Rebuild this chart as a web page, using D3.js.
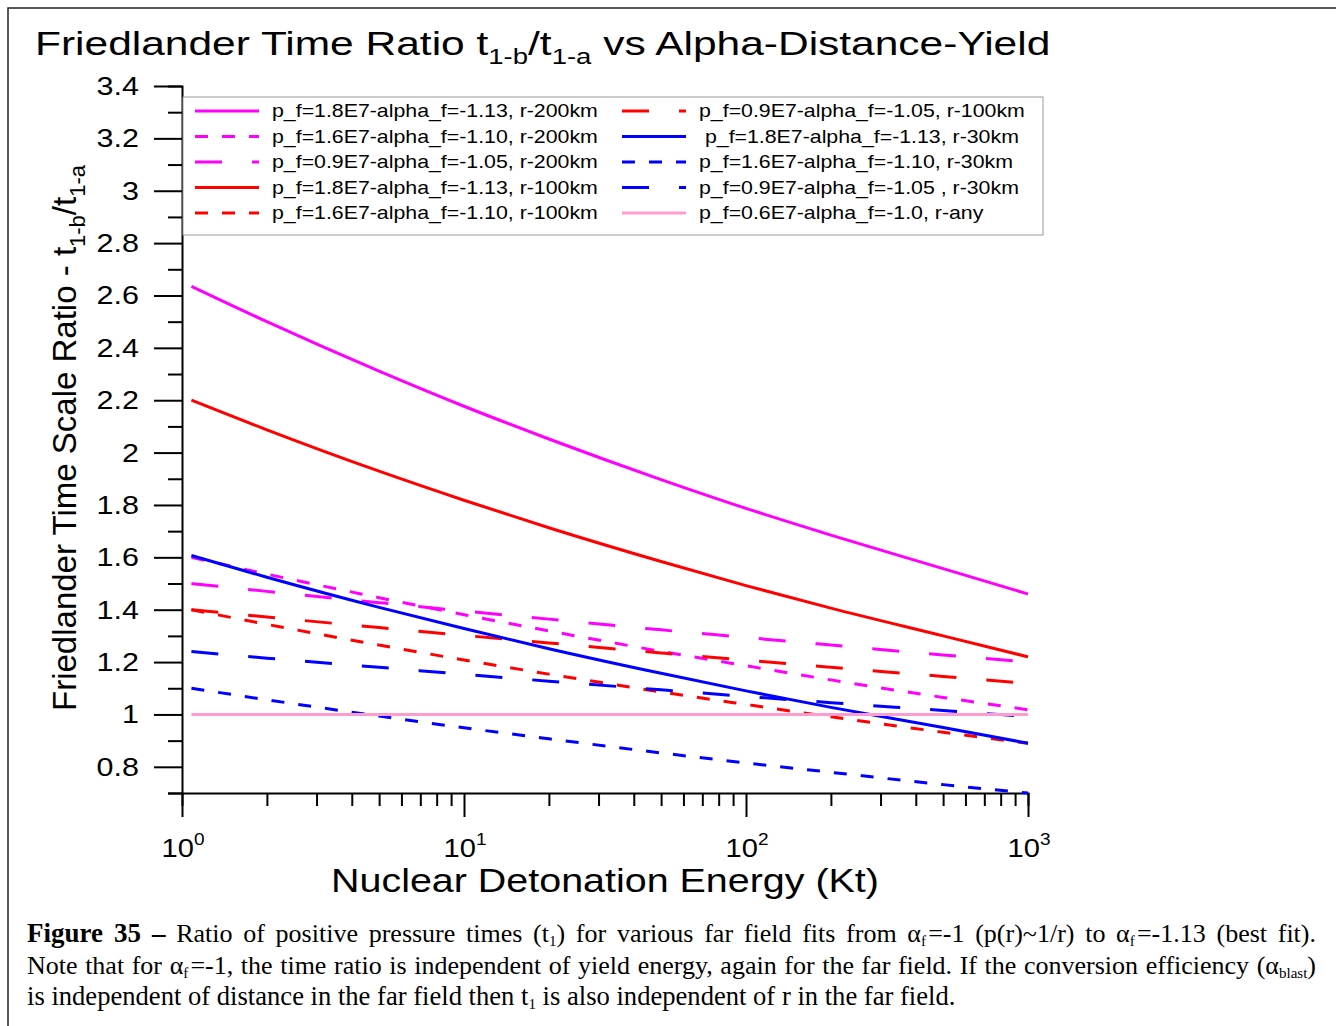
<!DOCTYPE html>
<html>
<head>
<meta charset="utf-8">
<script src="https://cdn.jsdelivr.net/npm/d3@7"></script>
<style>
  body { margin:0; background:#fff; }
  #wrap { position:relative; width:1336px; height:1026px; overflow:hidden; }
  svg { position:absolute; left:0; top:0; }
  .cap { position:absolute; left:27px; width:1289px; font-family:"Liberation Serif","Times New Roman",serif; font-size:26.6px; line-height:31px; white-space:nowrap; color:#000; }
  .cap.j { text-align:justify; text-align-last:justify; white-space:normal; font-size:26px; }
  .cap b { font-size:27px; }
  .cap sub { font-size:15px; vertical-align:-4px; line-height:0; }
</style>
</head>
<body>
<div id="wrap">
  <div id="chart"></div>
  <div class="cap j" style="top:918px"><b>Figure 35 –</b> Ratio of positive pressure times (t<sub>1</sub>) for various far field fits from α<sub>f</sub>&#8202;=-1 (p(r)~1/r) to α<sub>f</sub>&#8202;=-1.13 (best fit).</div>
  <div class="cap j" style="top:950px">Note that for α<sub>f</sub>&#8202;=-1, the time ratio is independent of yield energy, again for the far field. If the conversion efficiency (α<sub>blast</sub>)</div>
  <div class="cap" style="top:981px">is independent of distance in the far field then t<sub>1</sub> is also independent of r in the far field.</div>
</div>
<script>
// yield (Kt) where each curve was read
const energyKt = [1.08, 2, 5, 10, 20, 50, 100, 200, 500, 1000];

// ratio values
const mag200_113 = [2.635, 2.50, 2.311, 2.177, 2.052, 1.897, 1.787, 1.685, 1.557, 1.46];
const mag200_110 = [1.60, 1.536, 1.446, 1.381, 1.319, 1.241, 1.186, 1.132, 1.065, 1.018];
const mag200_105 = [1.50, 1.470, 1.427, 1.395, 1.364, 1.323, 1.294, 1.265, 1.227, 1.20];
const red100_113 = [2.20, 2.087, 1.929, 1.818, 1.713, 1.584, 1.492, 1.406, 1.300, 1.22];
const red100_110 = [1.40, 1.344, 1.265, 1.208, 1.154, 1.086, 1.038, 0.991, 0.932, 0.89];
const red100_105 = [1.40, 1.372, 1.332, 1.302, 1.273, 1.235, 1.207, 1.180, 1.145, 1.118];
const blue30_113 = [1.607, 1.524, 1.409, 1.328, 1.251, 1.157, 1.090, 1.027, 0.950, 0.89];
const blue30_110 = [1.10, 1.056, 0.994, 0.949, 0.907, 0.853, 0.815, 0.779, 0.732, 0.70];
const blue30_105 = [1.24, 1.215, 1.180, 1.153, 1.127, 1.094, 1.069, 1.045, 1.015, 0.992];
const pinkAny_100 = [1, 1, 1, 1, 1, 1, 1, 1, 1, 1];

const legendLabels = [
  "p_f=1.8E7-alpha_f=-1.13, r-200km",
  "p_f=1.6E7-alpha_f=-1.10, r-200km",
  "p_f=0.9E7-alpha_f=-1.05, r-200km",
  "p_f=1.8E7-alpha_f=-1.13, r-100km",
  "p_f=1.6E7-alpha_f=-1.10, r-100km",
  "p_f=0.9E7-alpha_f=-1.05, r-100km",
  " p_f=1.8E7-alpha_f=-1.13, r-30km",
  "p_f=1.6E7-alpha_f=-1.10, r-30km",
  "p_f=0.9E7-alpha_f=-1.05 , r-30km",
  "p_f=0.6E7-alpha_f=-1.0, r-any"
];

const yTickLabels = [0.8, 1, 1.2, 1.4, 1.6, 1.8, 2, 2.2, 2.4, 2.6, 2.8, 3, 3.2, 3.4];
const xDecades = [1, 10, 100, 1000];

const dashShort = "13,14", dashLong = "27,30";
const series = [
  {vals: mag200_113, color:"#ff00ff", dash:null},
  {vals: mag200_110, color:"#ff00ff", dash:dashShort},
  {vals: mag200_105, color:"#ff00ff", dash:dashLong},
  {vals: red100_113, color:"#ff0000", dash:null},
  {vals: red100_110, color:"#ff0000", dash:dashShort},
  {vals: red100_105, color:"#ff0000", dash:dashLong},
  {vals: blue30_113, color:"#0000ff", dash:null},
  {vals: blue30_110, color:"#0000ff", dash:dashShort},
  {vals: blue30_105, color:"#0000ff", dash:dashLong},
  {vals: pinkAny_100, color:"#ff9ccf", dash:null}
].map((s, i) => ({...s, label: legendLabels[i]}));

const W = 1336, H = 1026;
const svg = d3.select('#chart').append('svg').attr('width', W).attr('height', H)
  .style('font-family', '"Liberation Sans", Arial, sans-serif');

// page frame
svg.append('path').attr('d', `M8,${H} V8 H${W}`).attr('fill','none').attr('stroke','#222').attr('stroke-width',1.5);

const x = d3.scaleLog().domain([1, 1000]).range([182, 1028]);
const y = d3.scaleLinear().domain([0.7, 3.4]).range([793, 86]);

// the source font is wider than Arial, so stretch text horizontally
const stretched = (g, tx, ty, sx) => g.append('text').attr('transform', `translate(${tx},${ty}) scale(${sx},1)`);

// title
const title = stretched(svg, 35, 55, 1.25).attr('font-size', 34);
title.append('tspan').text('Friedlander Time Ratio t');
title.append('tspan').attr('font-size', 22).attr('dy', 9).text('1-b');
title.append('tspan').attr('dy', -9).text('/t');
title.append('tspan').attr('font-size', 22).attr('dy', 9).text('1-a');
title.append('tspan').attr('dy', -9).text(' vs Alpha-Distance-Yield');

// y axis
const yMinor = d3.range(7, 35).map(v => v / 10);
const isMajorY = v => yTickLabels.some(t => Math.abs(t - v) < 1e-6);
const yAx = svg.append('g').attr('transform', 'translate(182,0)')
  .call(d3.axisLeft(y).tickValues(yMinor).tickSizeOuter(0).tickSize(14).tickFormat(''));
yAx.selectAll('.tick line').attr('x2', d => isMajorY(d) ? -28 : -14);
yAx.selectAll('line, path').attr('stroke', '#000').attr('stroke-width', 2);
const yLab = svg.append('g');
yTickLabels.forEach(v => {
  stretched(yLab, 139, y(v) + 9, 1.22).attr('text-anchor', 'end').attr('font-size', 25)
    .text(String(+v.toFixed(1)));
});

// x axis
const xTicks = [];
xDecades.slice(0, 3).forEach(d => d3.range(1, 10).forEach(k => xTicks.push(d * k)));
xTicks.push(1000);
const xAx = svg.append('g').attr('transform', 'translate(0,793)')
  .call(d3.axisBottom(x).tickValues(xTicks).tickSizeOuter(0).tickSize(13).tickFormat(''));
xAx.selectAll('.tick line').attr('y2', d => xDecades.includes(d) ? 24 : 13);
xAx.selectAll('line, path').attr('stroke', '#000').attr('stroke-width', 2);
const xLab = svg.append('g');
xDecades.forEach(d => {
  const t = stretched(xLab, x(d) + 1, 857, 1.12).attr('text-anchor', 'middle').attr('font-size', 26);
  t.append('tspan').text('10');
  t.append('tspan').attr('font-size', 17).attr('dy', -12).text(Math.round(Math.log10(d)));
});

// axis titles
stretched(svg, 605, 892, 1.16).attr('text-anchor', 'middle').attr('font-size', 34)
  .text('Nuclear Detonation Energy (Kt)');
const yt = svg.append('text').attr('transform', 'translate(76,438) rotate(-90)')
  .attr('text-anchor', 'middle').attr('font-size', 33);
yt.append('tspan').text('Friedlander Time Scale Ratio - t');
yt.append('tspan').attr('font-size', 22).attr('dy', 9).text('1-b');
yt.append('tspan').attr('dy', -9).text('/t');
yt.append('tspan').attr('font-size', 22).attr('dy', 9).text('1-a');

// curves
const line = d3.line().x((d, i) => x(energyKt[i])).y(d => y(d)).curve(d3.curveMonotoneX);
svg.append('g').selectAll('path').data(series).join('path')
  .attr('d', d => line(d.vals))
  .attr('fill', 'none').attr('stroke', d => d.color).attr('stroke-width', 3)
  .attr('stroke-dasharray', d => d.dash);

// legend
svg.append('rect').attr('x', 183).attr('y', 97).attr('width', 860).attr('height', 138)
  .attr('fill', '#fff').attr('stroke', '#999').attr('stroke-width', 1);
const lg = svg.append('g').selectAll('g').data(series).join('g')
  .attr('transform', (d, i) => `translate(${i < 5 ? 195 : 622},${111 + (i % 5) * 25.5})`);
lg.append('line').attr('x1', 0).attr('x2', 64).attr('stroke', d => d.color).attr('stroke-width', 3)
  .attr('stroke-dasharray', d => d.dash);
lg.append('text').attr('transform', 'translate(77,6) scale(1.185,1)').attr('font-size', 18)
  .style('white-space', 'pre').text(d => d.label);
</script>
</body>
</html>
